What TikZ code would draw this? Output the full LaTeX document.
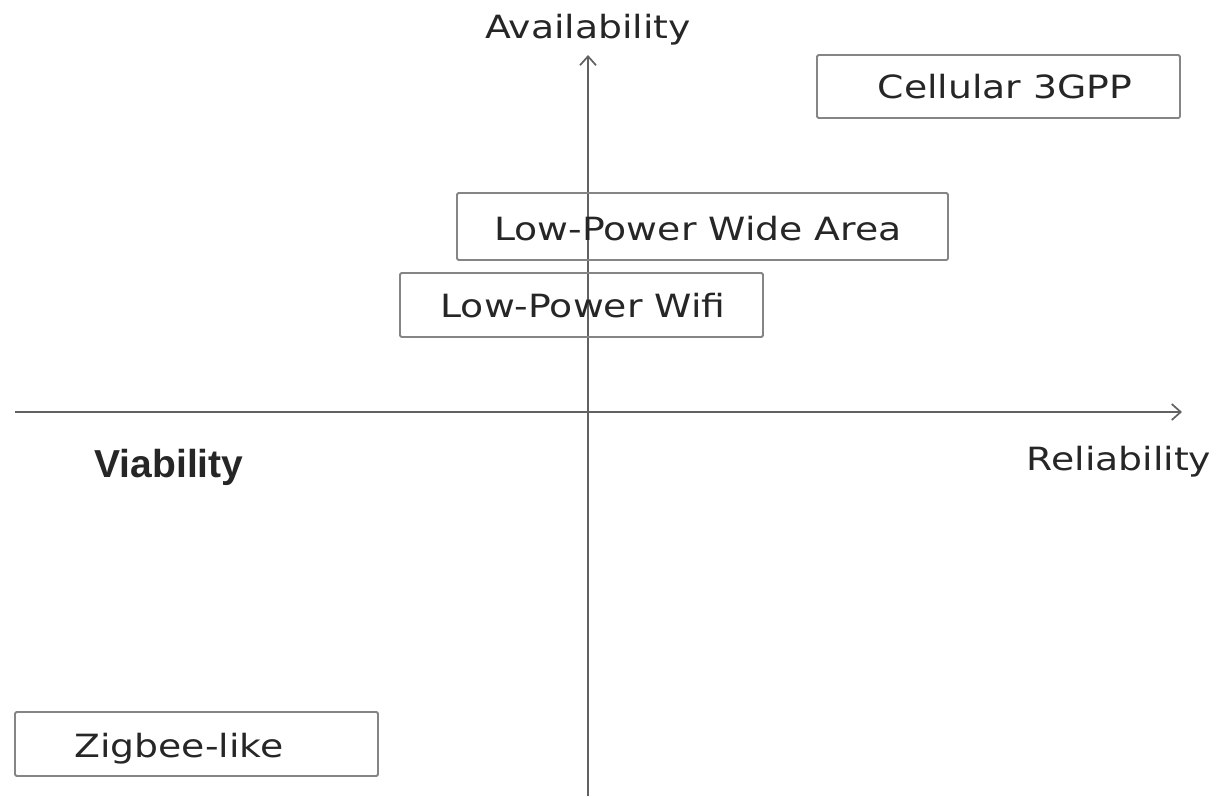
\documentclass[tikz,border=0pt]{standalone}
\usepackage{fontspec}
\newfontfamily\handfont[FakeStretch=1.18]{DejaVu Sans}
\newfontfamily\labelfont{Liberation Sans}
\usetikzlibrary{arrows.meta}
\begin{document}
\begin{tikzpicture}[x=1pt,y=-1pt,
  axis/.style={draw=black!62,line width=1.9pt,-{Straight Barb[length=9pt,width=16pt,line width=1.7pt]}},
  techbox/.style={draw=black!48,line width=1.8pt,rounded corners=1.5pt},
  handtext/.style={font=\handfont\fontsize{32}{36}\selectfont,text=black!85,inner sep=0pt,anchor=base}]
  \useasboundingbox (0,0) rectangle (1225,796);

  % axes
  \coordinate (xs) at (15,412);
  \coordinate (xe) at (1182,412);
  \coordinate (ys) at (588,796);
  \coordinate (ye) at (588,55);
  \draw[axis] (xs) -- (xe);
  \draw[axis] (ys) -- (ye);

  % axis labels
  \node[handtext] (avail) at (588,38) {Availability};
  \node[handtext] (rel) at (1119,470) {Reliability};
  \node[inner sep=0pt,anchor=base,font=\labelfont\bfseries\fontsize{39}{44}\selectfont,text=black!85] (via) at (169,477) {Viability};

  % technology boxes
  \draw[techbox] (817,55) rectangle (1180,118);
  \node[handtext] (cell) at (1005,98) {Cellular 3GPP};

  \draw[techbox] (457,193) rectangle (948,260);
  \node[handtext] (lpwa) at (698,240) {Low-Power Wide Area};

  \draw[techbox] (400,273) rectangle (763,337);
  \node[handtext] (lpwifi) at (583,317) {Low-Power Wifi};

  \draw[techbox] (15,712) rectangle (378,776);
  \node[handtext] (zig) at (179,757) {Zigbee-like};
\end{tikzpicture}
\end{document}
